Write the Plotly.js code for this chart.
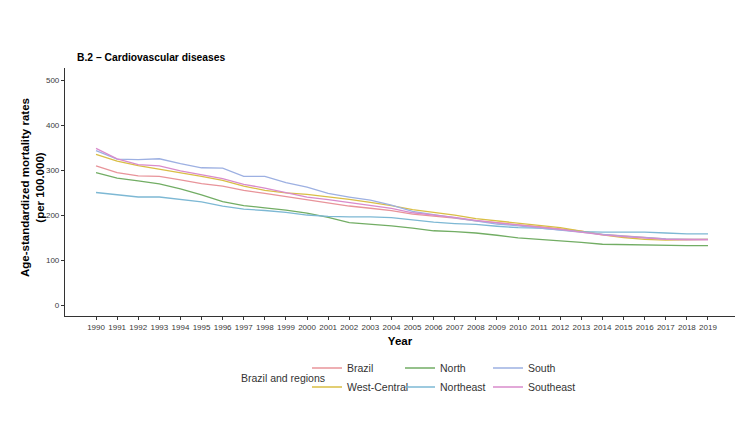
<!DOCTYPE html>
<html>
<head>
<meta charset="utf-8">
<script src="https://cdn.plot.ly/plotly-3.0.1.min.js"></script>
<style>html,body{margin:0;padding:0;background:#fff;}#chart{width:750px;height:434px;}</style>
</head>
<body>
<div id="chart"></div>
<script>
const years = [1990,1991,1992,1993,1994,1995,1996,1997,1998,1999,2000,2001,2002,2003,2004,2005,2006,2007,2008,2009,2010,2011,2012,2013,2014,2015,2016,2017,2018,2019];
const yearLabels = years.map(String);

const brazil      = [309,294,287,286,278,270,264,255,248,241,233,226,220,215,210,202,198,193,187,183,178,174,169,164,157,153,150,147,146,146];
const westCentral = [335,320,310,302,295,286,277,264,255,249,246,241,235,228,221,212,206,200,192,187,183,178,172,164,156,150,146,144,145,146];
const north       = [294,282,276,269,258,245,230,221,216,211,204,195,183,180,176,171,165,163,160,155,149,146,143,139,135,134,133,132,132,132];
const northeast   = [250,245,240,240,235,229,220,213,210,206,200,197,196,196,194,189,184,181,179,175,172,171,167,163,162,162,162,160,158,158];
const south       = [343,324,323,325,314,305,304,286,286,272,262,248,240,233,222,208,201,194,187,180,176,171,167,162,157,153,150,147,146,146];
const southeast   = [348,325,312,309,298,290,281,268,260,250,240,234,228,222,215,205,200,195,188,183,178,174,168,162,156,152,149,146,145,145];

const yTicks = [0,100,200,300,400,500];

const seriesNames  = ['Brazil','West-Central','North','Northeast','South','Southeast'];
const seriesValues = [brazil, westCentral, north, northeast, south, southeast];
const seriesColors = ['#E8949A','#D9BE45','#72AD64','#7DB8D4','#9DB0E2','#D98BCB'];
const seriesLegend = ['legend','legend2','legend','legend2','legend','legend2'];
const seriesLegendWidth = [48,48,43,43,43,43];

const traces = seriesNames.map((name, i) => ({
  type: 'scatter',
  mode: 'lines',
  name: name,
  x: years,
  y: seriesValues[i],
  line: {color: seriesColors[i], width: 1.3},
  legend: seriesLegend[i],
  legendwidth: seriesLegendWidth[i],
  hoverinfo: 'skip'
}));

const tickFont = {family: '"Liberation Sans Narrow", "Arial Narrow", "Liberation Sans", Arial, sans-serif', size: 8, color: '#3a3a3a'};
const legendFont = {family: '"Liberation Sans", Arial, sans-serif', size: 10.5, color: '#333333'};
const boldFont = {family: '"Liberation Sans", Arial, sans-serif', size: 11.5, color: '#000000'};

const legendCommon = {
  orientation: 'h',
  xanchor: 'left',
  yanchor: 'middle',
  x: (307-65)/670,
  entrywidth: 43,
  font: legendFont,
  bgcolor: 'rgba(0,0,0,0)',
  borderwidth: 0,
  itemclick: false,
  itemdoubleclick: false
};

const layout = {
  width: 750,
  height: 434,
  paper_bgcolor: '#ffffff',
  plot_bgcolor: '#ffffff',
  margin: {l: 65, r: 15, t: 68, b: 118},
  showlegend: true,
  title: {
    text: '<b>B.2 – Cardiovascular diseases</b>',
    x: 77/750, xanchor: 'left', xref: 'container',
    y: 1 - 57/434, yanchor: 'middle', yref: 'container',
    font: {family: '"Liberation Sans", Arial, sans-serif', size: 10.3, color: '#000000'}
  },
  xaxis: {
    range: [1988.53, 2020.28],
    tickmode: 'array',
    tickvals: years,
    ticktext: yearLabels,
    tickangle: 0,
    ticks: 'outside',
    ticklen: 3,
    tickwidth: 1,
    tickcolor: '#333333',
    showline: true,
    linecolor: '#333333',
    linewidth: 1.1,
    showgrid: false,
    zeroline: false,
    tickfont: tickFont,
    title: {text: '<b>Year</b>', font: {family: '"Liberation Sans", Arial, sans-serif', size: 11.5, color: '#000000'}, standoff: 6}
  },
  yaxis: {
    range: [-24.4, 526.7],
    tickmode: 'array',
    tickvals: yTicks,
    ticktext: yTicks.map(String),
    ticks: 'outside',
    ticklen: 3,
    tickwidth: 1,
    tickcolor: '#333333',
    showline: true,
    linecolor: '#333333',
    linewidth: 1.1,
    showgrid: false,
    zeroline: false,
    tickfont: tickFont,
    title: {text: ''}
  },
  legend: Object.assign({}, legendCommon, {y: (316-368)/248}),
  legend2: Object.assign({}, legendCommon, {y: (316-387)/248}),
  annotations: [{
    text: 'Brazil and regions',
    xref: 'paper', yref: 'paper',
    x: (283-65)/670, y: (316-378)/248,
    xanchor: 'center', yanchor: 'middle',
    showarrow: false,
    font: legendFont
  }, {
    text: '<b>Age-standardized mortality rates<br>(per 100.000)</b>',
    xref: 'paper', yref: 'paper',
    x: (32-65)/670, y: (316-188)/248,
    xanchor: 'center', yanchor: 'middle',
    textangle: -90,
    showarrow: false,
    font: boldFont
  }]
};

Plotly.newPlot('chart', traces, layout, {staticPlot: true, displayModeBar: false});
</script>
</body>
</html>
